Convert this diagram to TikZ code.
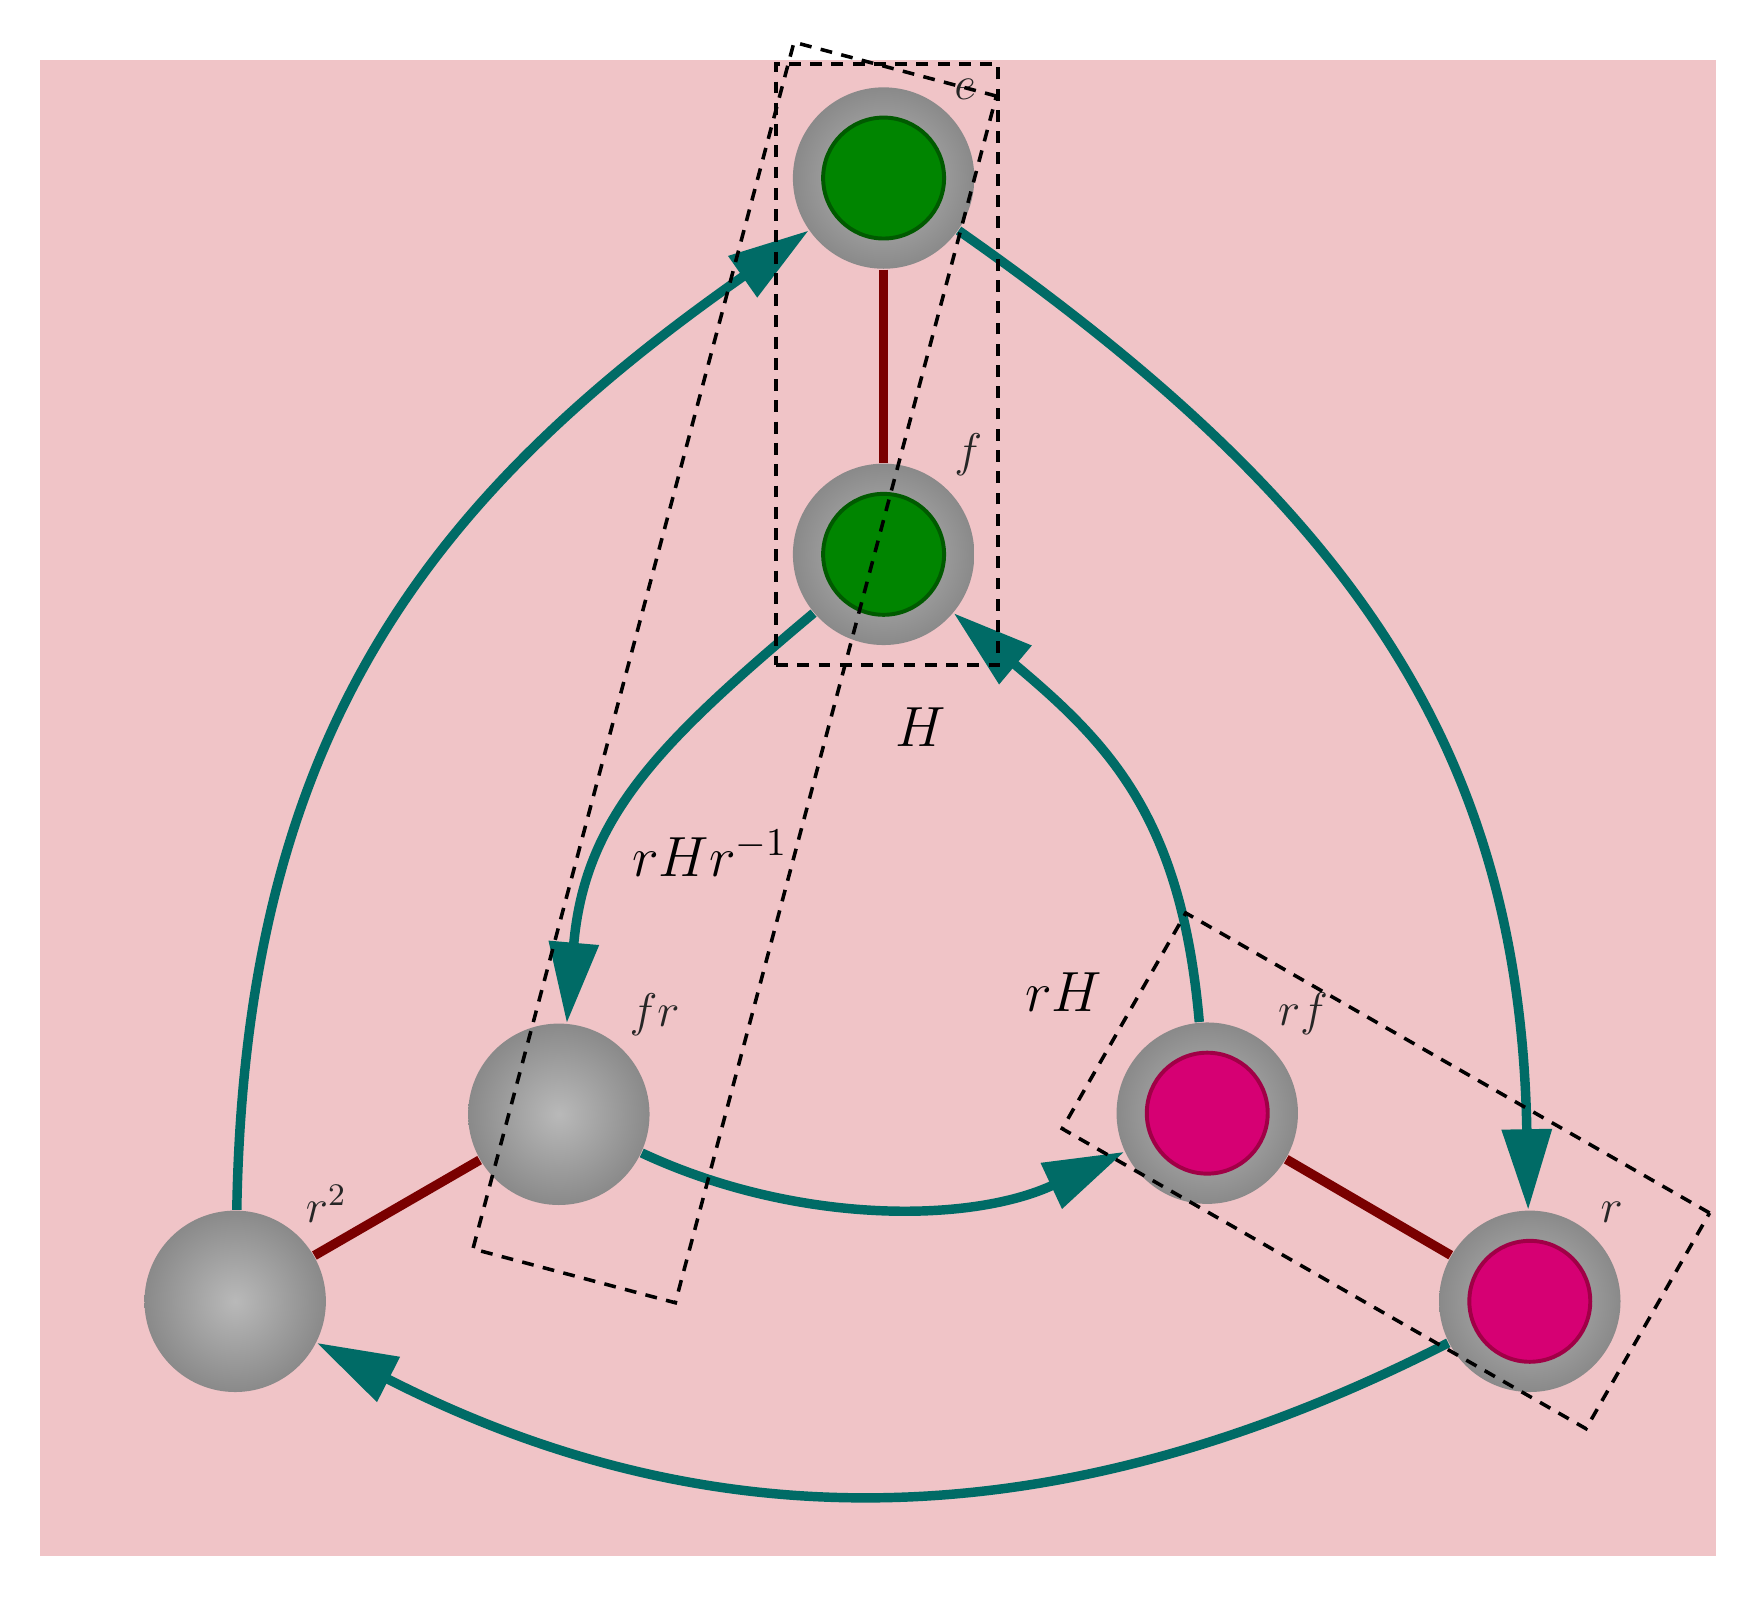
\documentclass[tikz,border=0pt]{standalone}
\usetikzlibrary{arrows.meta}
\usepackage{amsmath,amssymb}
\definecolor{blush}{RGB}{240,196,199}
\definecolor{cosetteal}{RGB}{0,107,102}
\definecolor{bondred}{RGB}{122,0,0}
\definecolor{hgreen}{RGB}{0,133,0}
\definecolor{hgreenrim}{RGB}{0,90,0}
\definecolor{rhpink}{RGB}{214,0,115}
\definecolor{rhpinkrim}{RGB}{160,0,70}

\begin{document}
\begin{tikzpicture}[orb/.style={circle,minimum size=1.62cm,inner sep=0pt,inner color=gray!55,outer color=gray!92},
  core/.style={circle,minimum size=1.08cm,inner sep=0pt,line width=1pt},
  tag/.style={font=\large,text=black!85,xshift=-0.7mm},
  move/.style={cosetteal,line width=2.4pt,-{Triangle[length=0.72cm,width=0.43cm]}},
  bond/.style={bondred,line width=2.4pt},
  coset/.style={draw,dash pattern=on 3pt off 2.4pt,line width=0.9pt,inner sep=0pt}]
\useasboundingbox (0,0) rectangle (15.68,14.29);
\fill [blush] (0.36,0.40) rectangle (15.32,13.75);

\node [orb,label={[tag]45:$e$}] (e) at (7.89,12.70) {};
\node [orb,label={[tag]45:$f$}] (f) at (7.89,9.34) {};
\node [orb,label={[tag]45:$fr$}] (fr) at (4.99,4.34) {};
\node [orb,label={[tag]45:$r^2$}] (r2) at (2.10,2.67) {};
\node [orb,label={[tag]45:$rf$}] (rf) at (10.78,4.35) {};
\node [orb,label={[tag]45:$r$}] (r) at (13.66,2.67) {};
\node [core,fill=hgreen,draw=hgreenrim] (e-core) at (e) {};
\node [core,fill=hgreen,draw=hgreenrim] (f-core) at (f) {};
\node [core,fill=rhpink,draw=rhpinkrim] (rf-core) at (rf) {};
\node [core,fill=rhpink,draw=rhpinkrim] (r-core) at (r) {};

\draw [bond] (e) -- (f);
\draw [bond] (r2) -- (fr);
\draw [bond] (rf) -- (r);

\draw [move] (r2) to[out=89,in=-145,looseness=1.06] (e);
\draw [move] (e) to[out=-35,in=91,looseness=1.06] (r);
\draw [move] (f) to[out=220,in=85,looseness=1.1] (fr);
\draw [move] (rf) to[out=95,in=-40,looseness=1.1] (f);
\draw [move] (fr) to[out=-25,in=-155,looseness=0.9] (rf);
\draw [move] (r) to[out=207,in=-27] (r2);

\node [font=\Large] (hlab) at (8.22,7.80) {$H$};
\node [font=\Large] (conjlab) at (6.34,6.67) {$rHr^{-1}$};
\node [font=\Large] (rhlab) at (9.50,5.43) {$rH$};

\node [coset,minimum width=1.98cm,minimum height=5.37cm] (hbox) at (7.92,11.035) {};
\node [coset,minimum width=1.87cm,minimum height=11.15cm,rotate=-14.9] (conjbox) at (6.56,8.285) {};
\node [coset,minimum width=5.39cm,minimum height=2.22cm,rotate=-29.8] (rhbox) at (12.375,3.835) {};
\end{tikzpicture}
\end{document}
